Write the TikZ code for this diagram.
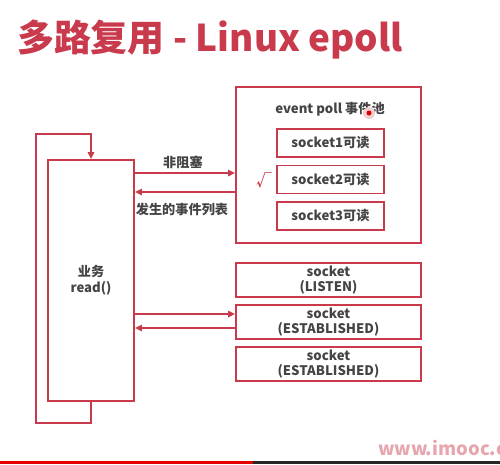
\documentclass[tikz,border=0pt]{standalone}
\usepackage{fontspec}
\setmainfont{Noto Sans CJK SC}
\definecolor{mookred}{HTML}{C93A4C}
\definecolor{mookgray}{HTML}{444444}
\usetikzlibrary{arrows.meta, positioning}

\begin{document}
\begin{tikzpicture}[x=0.02cm, y=-0.02cm,
      redbox/.style={draw=mookred, line width=1pt, inner sep=0pt,
                    font=\fontsize{7.5}{9}\selectfont\bfseries,
                    text=mookgray, align=center},
      redline/.style={draw=mookred, line width=1pt},
      tip/.style={-{Triangle[length=4pt, width=3.6pt]}},
      lbl/.style={font=\fontsize{7.5}{9}\selectfont\bfseries, text=mookgray}
    ]
      \useasboundingbox (0,0) rectangle (500,464);

      \node[anchor=base west, text=mookred, font=\fontsize{21}{24}\selectfont\bfseries]
        (title) at (11,51) {多路复用 - Linux epoll};

      % worker side
      \node[redbox, minimum width=1.72cm, minimum height=4.82cm] (work) at (91,280.5) {业务\\read()};
      \draw[redline, tip] (work.south) |- (36,423) |- (91,134) -- (work.north);

      % event poll
      \node[redbox, minimum width=3.7cm, minimum height=3.12cm] (pool) at (328.5,165) {};
      \node[lbl] (pooltitle) at (330,109) {event poll 事件池};
      \node[redbox, minimum width=2.14cm, minimum height=0.56cm] (ev1) at (330.5,143) {socket1可读};
      \node[redbox, minimum width=2.14cm, minimum height=0.56cm] (ev2) at (330.5,179.5) {socket2可读};
      \node[redbox, minimum width=2.14cm, minimum height=0.56cm] (ev3) at (330.5,216) {socket3可读};
      \node[text=mookred, font=\fontsize{9}{9}\selectfont\bfseries] (tick) at (264,180) {√};

      % sockets
      \node[redbox, minimum width=3.7cm, minimum height=0.68cm] (sk1) at (328.5,280) {socket\\(LISTEN)};
      \node[redbox, minimum width=3.7cm, minimum height=0.68cm] (sk2) at (328.5,322) {socket\\(ESTABLISHED)};
      \node[redbox, minimum width=3.7cm, minimum height=0.68cm] (sk3) at (328.5,364) {socket\\(ESTABLISHED)};

      \draw[redline, tip] (work.east |- 0,173) -- (pool.west |- 0,173);
      \draw[redline, tip] (pool.west |- 0,192) -- (work.east |- 0,192);
      \node[lbl] (nb) at (183,162) {非阻塞};
      \node[lbl] (evlist) at (182,209) {发生的事件列表};

      \draw[redline, tip] (work.east |- 0,314) -- (sk2.west |- 0,314);
      \draw[redline, tip] (sk2.west |- 0,328) -- (work.east |- 0,328);

      % pointer, watermark, player bar
      \fill[mookred!25] (369,113) circle (0.12cm);
      \fill[red!85!black] (369,113) circle (0.05cm);
      \node[anchor=base west, text=mookred!45, font=\fontsize{10.5}{12}\selectfont\bfseries]
        (mark) at (372,455) {www.imooc.com};
      \fill[red!90!black] (0,461) rectangle (253,464);
      \fill[black!85] (253,461) rectangle (500,464);
    \end{tikzpicture}
\end{document}
